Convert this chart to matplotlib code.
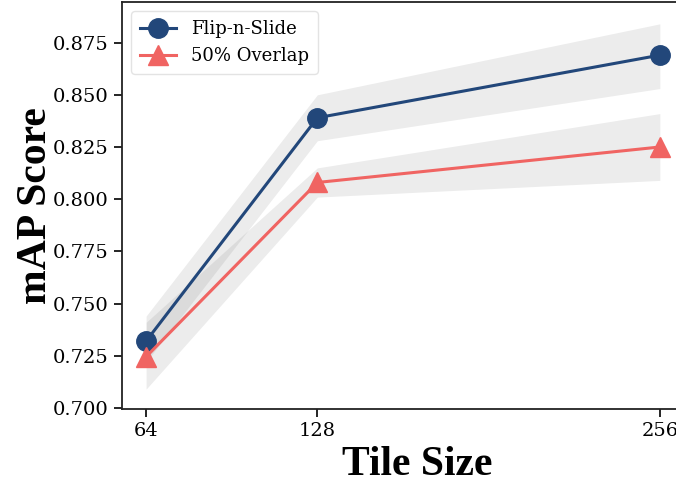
import matplotlib
matplotlib.use('Agg')
import matplotlib.pyplot as plt

# Tile sizes and mAP scores
tile_sizes = [64, 128, 256]

flip_mean = [0.732, 0.839, 0.869]
flip_low = [0.722, 0.828, 0.853]
flip_high = [0.744, 0.850, 0.884]

overlap_mean = [0.7245, 0.808, 0.825]
overlap_low = [0.709, 0.801, 0.809]
overlap_high = [0.741, 0.815, 0.841]

flip_color = '#22477a'
overlap_color = '#f06462'

plt.rcParams['font.family'] = 'DejaVu Serif'

fig = plt.figure(figsize=(6.76, 4.8), dpi=100)
ax = fig.add_axes([0.1805, 0.148, 0.834, 0.848])

ax.fill_between(tile_sizes, flip_low, flip_high, color='gray', alpha=0.15, linewidth=0)
ax.fill_between(tile_sizes, overlap_low, overlap_high, color='gray', alpha=0.15, linewidth=0)

ax.plot(tile_sizes, flip_mean, marker='o', markersize=14, linewidth=2.2, color=flip_color, label='Flip-n-Slide')
ax.plot(tile_sizes, overlap_mean, marker='^', markersize=15, linewidth=2.2, color=overlap_color, label='50% Overlap')

ax.set_xticks(tile_sizes)
ax.set_xticklabels(['64', '128', '256'])
ax.set_xlim(55, 265.7)
ax.set_yticks([0.700, 0.725, 0.750, 0.775, 0.800, 0.825, 0.850, 0.875])
ax.set_yticklabels(['0.700', '0.725', '0.750', '0.775', '0.800', '0.825', '0.850', '0.875'])
ax.set_ylim(0.6995, 0.8945)
ax.tick_params(labelsize=14, length=6, width=1.2)

for s in ax.spines.values():
    s.set_linewidth(1.3)
    s.set_color('#222222')

ax.set_xlabel('Tile Size', fontsize=30, fontweight='bold', family='Liberation Serif')
ax.xaxis.set_label_coords(0.523, -0.09)
ax.set_ylabel('mAP Score', fontsize=30, fontweight='bold', family='Liberation Serif')
ax.yaxis.set_label_coords(-0.119, 0.5)

ax.legend(loc='upper left', fontsize=13, frameon=True, edgecolor='#dddddd', handlelength=2.0,
          borderpad=0.5, labelspacing=0.5, borderaxespad=0.5)

fig.savefig('out.png', dpi=100)
